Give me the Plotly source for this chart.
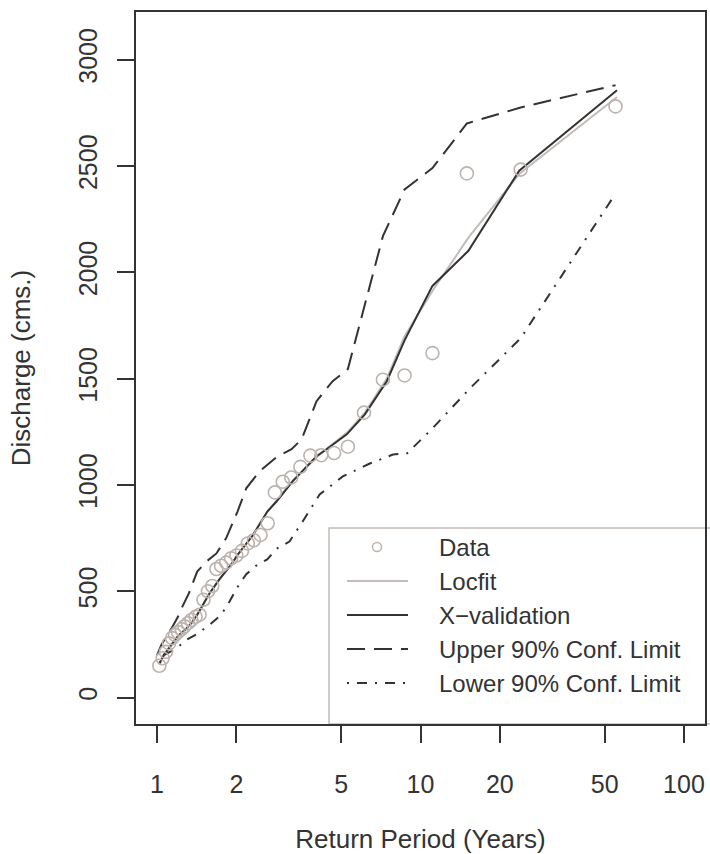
import plotly.graph_objects as go

# ---------------- data ----------------
return_period = [55, 24, 15, 11.1, 8.7, 7.2, 6.1, 5.3, 4.7, 4.2, 3.82, 3.5, 3.23, 3.0, 2.8,
                 2.63, 2.47, 2.33, 2.21, 2.1, 2.0, 1.91, 1.83, 1.75, 1.68, 1.62, 1.56, 1.5,
                 1.45, 1.4, 1.35, 1.31, 1.27, 1.24, 1.2, 1.17, 1.14, 1.11, 1.08, 1.05, 1.02]
discharge = [2780, 2483, 2465, 1620, 1515, 1495, 1340, 1180, 1150, 1140, 1138, 1085, 1035, 1015, 965,
             820, 765, 740, 725, 690, 668, 655, 635, 620, 605, 525, 500, 460,
             390, 380, 365, 350, 335, 322, 308, 295, 280, 255, 215, 185, 150]

fit_T = [1.02, 1.06, 1.12, 1.2, 1.28, 1.35, 1.42, 1.48, 1.58, 1.72, 1.93, 2.02, 2.3, 2.62,
         2.84, 3.27, 4.03, 4.4, 5.25, 6.15, 7.45, 8.7, 11.1, 15.2, 23.7, 55.7]
locfit_Q = [155, 195, 238, 285, 318, 350, 388, 428, 488, 552, 635, 670, 762, 872,
            925, 1020, 1130, 1170, 1245, 1340, 1500, 1700, 1912, 2163, 2462, 2824]
xval_Q = [160, 200, 240, 290, 320, 350, 390, 430, 490, 555, 632, 672, 760, 875,
          922, 1017, 1135, 1168, 1238, 1332, 1488, 1680, 1936, 2101, 2478, 2856]

upper_T = [1.0, 1.04, 1.14, 1.2, 1.25, 1.32, 1.42, 1.54, 1.68, 1.83, 2.02, 2.18, 2.45, 2.87,
           3.24, 3.54, 4.03, 4.64, 5.3, 7.2, 8.7, 11.1, 15, 24, 55]
upper_Q = [200, 250, 330, 380, 430, 490, 593, 640, 678, 750, 875, 984, 1064, 1135,
           1168, 1215, 1394, 1488, 1545, 2170, 2390, 2490, 2700, 2775, 2880]

lower_T = [1.02, 1.06, 1.18, 1.29, 1.42, 1.58, 1.75, 1.88, 2.02, 2.18, 2.4, 2.62, 2.84, 3.18,
           3.57, 4.14, 5.07, 6.42, 7.86, 8.9, 11.1, 15.4, 24, 55]
lower_Q = [160, 200, 230, 271, 300, 342, 389, 450, 520, 580, 625, 650, 700, 734,
           828, 955, 1040, 1101, 1143, 1149, 1266, 1454, 1690, 2370]

x_ticks = [1, 2, 5, 10, 20, 50, 100]
y_ticks = [0, 500, 1000, 1500, 2000, 2500, 3000]
legend_labels = ["Data", "Locfit", "X\u2212validation", "Upper 90% Conf. Limit", "Lower 90% Conf. Limit"]

# ---------------- style ----------------
W, H = 710, 854
L, R, T, B = 136, 5, 12, 130
PW, PH = W - L - R, H - T - B
DARK = "#333333"
GREY = "#BDB3AE"
LGREY = "#C4BCB8"
FONT = "Liberation Sans"
FS_TICK = 25
FS_TITLE = 26
FS_LEG = 24

fig = go.Figure()
fig.add_trace(go.Scatter(x=fit_T, y=locfit_Q, mode="lines",
                         line=dict(color=LGREY, width=2), name=legend_labels[1]))
fig.add_trace(go.Scatter(x=fit_T, y=xval_Q, mode="lines",
                         line=dict(color=DARK, width=2), name=legend_labels[2]))
fig.add_trace(go.Scatter(x=upper_T, y=upper_Q, mode="lines",
                         line=dict(color=DARK, width=2, dash="18px,9px"), name=legend_labels[3]))
fig.add_trace(go.Scatter(x=lower_T, y=lower_Q, mode="lines",
                         line=dict(color=DARK, width=2, dash="2px,8px,10px,8px"), name=legend_labels[4]))
fig.add_trace(go.Scatter(x=return_period, y=discharge, mode="markers",
                         marker=dict(symbol="circle-open", size=13, color=GREY,
                                     line=dict(width=1.6, color=GREY)),
                         name=legend_labels[0]))


def px(xp):
    return (xp - L) / PW


def py(yp):
    return (H - B - yp) / PH


shapes = []
annotations = []
# legend box (extends past the figure edge, as in the reference)
shapes.append(dict(type="rect", xref="paper", yref="paper",
                   x0=px(329), x1=px(760), y0=py(H - B), y1=py(528),
                   line=dict(color=LGREY, width=1.5), fillcolor="white", layer="below"))
row_y = [547, 581, 615, 649, 683]
r = 4.5
shapes.append(dict(type="circle", xref="paper", yref="paper",
                   x0=px(377 - r), x1=px(377 + r), y0=py(row_y[0] + r), y1=py(row_y[0] - r),
                   line=dict(color=GREY, width=1.5)))
line_styles = [(LGREY, "solid"), (DARK, "solid"), (DARK, "18px,9px"), (DARK, "2px,8px,10px,8px")]
for i, (c, d) in enumerate(line_styles):
    yy = py(row_y[i + 1])
    shapes.append(dict(type="line", xref="paper", yref="paper",
                       x0=px(347), x1=px(408), y0=yy, y1=yy,
                       line=dict(color=c, width=2, dash=d)))
for i, lab in enumerate(legend_labels):
    annotations.append(dict(text=lab, xref="paper", yref="paper", x=px(437), y=py(row_y[i]),
                            xanchor="left", yanchor="middle", showarrow=False,
                            font=dict(family=FONT, size=FS_LEG, color=DARK)))

fig.update_layout(
    width=W, height=H,
    margin=dict(l=L, r=R, t=T, b=B),
    paper_bgcolor="white", plot_bgcolor="white",
    showlegend=False,
    font=dict(family=FONT, size=FS_TICK, color=DARK),
    shapes=shapes, annotations=annotations,
    xaxis=dict(type="log", range=[-0.08, 2.08], tickvals=x_ticks,
               ticktext=[str(v) for v in x_ticks], automargin=False,
               showgrid=False, zeroline=False, showline=True, mirror=True,
               linecolor=DARK, linewidth=1.5, ticks="outside", ticklen=17, tickwidth=1.5,
               tickcolor=DARK, ticklabelstandoff=20,
               title=dict(text="Return Period (Years)", standoff=38,
                          font=dict(family=FONT, size=FS_TITLE, color=DARK)),
               tickfont=dict(family=FONT, size=FS_TICK, color=DARK)),
    yaxis=dict(range=[-124, 3224], tickvals=y_ticks, ticktext=[str(v) for v in y_ticks],
               automargin=False,
               showgrid=False, zeroline=False, showline=True, mirror=True,
               linecolor=DARK, linewidth=1.5, ticks="outside", ticklen=17, tickwidth=1.5,
               tickcolor=DARK, tickangle=-90, ticklabelstandoff=10,
               title=dict(text="Discharge (cms.)", standoff=36,
                          font=dict(family=FONT, size=FS_TITLE, color=DARK)),
               tickfont=dict(family=FONT, size=FS_TICK, color=DARK)),
)

fig.write_html("out.html")
